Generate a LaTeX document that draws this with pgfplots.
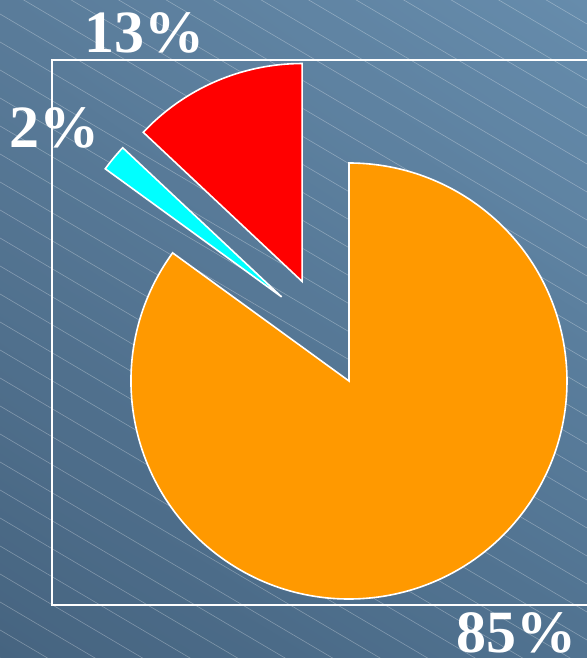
\documentclass[border=0pt]{standalone}
\usepackage{pgfplots}
\pgfplotsset{compat=1.18}
\usetikzlibrary{shadings}
\usepackage{fontspec}
\setmainfont{Liberation Serif}
\definecolor{pieorange}{RGB}{255,153,0}
\definecolor{piered}{RGB}{255,0,0}
\definecolor{piecyan}{RGB}{0,255,255}
\definecolor{bgll}{RGB}{70,100,128}
\definecolor{bgur}{RGB}{102,140,172}
\definecolor{bgul}{RGB}{90,124,154}
\definecolor{bglr}{RGB}{80,114,144}
% pie slice: start angle, value (percent), colour; each slice pulled 55 units out along its middle
\newcommand{\pieslice}[3]{%
  \pgfmathsetmacro\sa{#1}%
  \pgfmathsetmacro\ea{#1+3.6*#2}%
  \pgfmathsetmacro\ma{(\sa+\ea)/2}%
  \pgfmathsetmacro\ax{324+55*cos(\ma)}%
  \pgfmathsetmacro\ay{326+55*sin(\ma)}%
  \edef\temp{\noexpand\filldraw[fill=#3,draw=white,line width=0.8pt,line join=miter]
    (axis cs:\ax,\ay) -- ++(\sa:109pt) arc[start angle=\sa, end angle=\ea, radius=109pt] -- cycle;}%
  \temp
}
\begin{document}
\begin{tikzpicture}[x=0.5pt,y=0.5pt]
% background
\shade[lower left=bgll, upper right=bgur, upper left=bgul, lower right=bglr]
  (0,0) rectangle (587,658);
\begin{scope}
\clip (0,0) rectangle (587,658);
\foreach \b in {0,28,...,1040}{
  \draw[white,opacity=0.3,line width=0.3pt] (0,\b) -- (587,\b-346);
}
\end{scope}
% frame
\draw[white,line width=1pt] (590,598) -- (52,598) -- (52,53) -- (590,53);
\begin{axis}[scale only axis, width=293.5pt, height=329pt,
  at={(0,0)}, anchor=south west,
  xmin=0, xmax=587, ymin=0, ymax=658, hide axis, clip=false]
\pieslice{90}{13}{piered}
\pieslice{136.8}{2}{piecyan}
\pieslice{144}{85}{pieorange}
\node[white,font=\fontsize{30}{32}\selectfont\bfseries,anchor=base] at (axis cs:144,605) {13\%};
\node[white,font=\fontsize{30}{32}\selectfont\bfseries,anchor=base] at (axis cs:55,510) {2\%};
\node[white,font=\fontsize{30}{32}\selectfont\bfseries,anchor=base] at (axis cs:516,5) {85\%};
\end{axis}
\pgfresetboundingbox
\path[use as bounding box] (0,0) rectangle (587,658);
\end{tikzpicture}
\end{document}
